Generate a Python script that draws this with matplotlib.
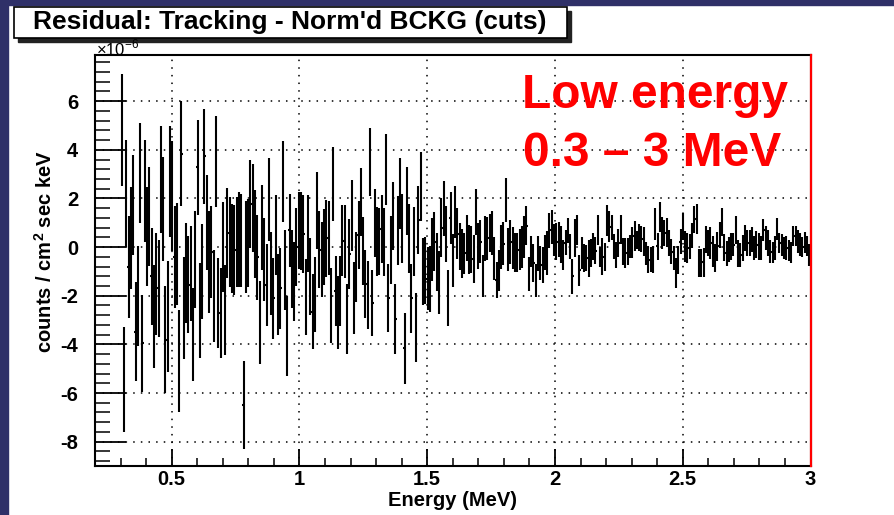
import matplotlib
matplotlib.use('Agg')
import matplotlib.pyplot as plt
import numpy as np
from matplotlib.patches import Rectangle
from matplotlib.ticker import MultipleLocator, FuncFormatter

plt.rcParams['font.family'] = ['Liberation Sans', 'DejaVu Sans']
plt.rcParams['mathtext.fontset'] = 'custom'
plt.rcParams['mathtext.rm'] = 'Liberation Sans'
plt.rcParams['mathtext.bf'] = 'Liberation Sans:bold'

# ---- data (units of 1e-6 counts / cm^2 sec keV) ----
e_start = 0.30      # MeV, lower edge of first bin
bin_w = 0.009       # MeV

vals_a = [4.8, -5.45, 2.2, -0.8, 0.37, 1.74, -3.47, -2.0, 3.04, -3.95,
          2.3, 0.44, 1.26, -1.2, -2.85, -1.5, -1.7, 2.77, 1.56, -3.8,
          -2.85, 2.7, 2.1, -0.4, -0.3, -4.7, 3.84, -2.5, -1.07, -1.55,
          -1.07, -3.6, -0.5, 3.29, -2.6, -1.0, 3.73, 1.0, -0.6, -0.2,
          -2.0, 3.52, -2.3, -2.7, 0.0, -2.6, 0.58, 0.23, -0.05, -0.1,
          0.2, 0.3, 0.27, -6.5]
errs_a = [2.3, 2.15, 2.2, 2.1, 2.1, 2.05, 2.05, 2.05, 2.05, 2.0,
          2.1, 2.05, 2.05, 2.0, 2.1, 2.1, 2.0, 2.2, 2.15, 2.2,
          2.3, 2.3, 2.25, 2.1, 2.1, 2.1, 2.15, 2.1, 2.05, 2.0,
          1.95, 1.9, 2.0, 1.95, 1.95, 1.95, 1.95, 1.95, 2.1, 1.9,
          1.9, 1.88, 1.85, 1.85, 1.85, 1.85, 1.85, 1.85, 1.82, 1.85,
          1.85, 1.95, 1.9, 1.8]

vals_b = [0.0, 0.16, 1.78, 1.6, 0.55, -0.42, -3.1, 0.8, -0.5, -1.55,
          1.95, -1.07, -2.1, 0.5, -1.95, -1.7, 2.7, -0.93, -3.67, 0.7,
          -0.9, -1.4, 0.0, 0.7, 0.65, 0.55, -2.05, 0.55, -1.2, -2.65,
          -1.95, 1.5, -0.1, -0.5, 0.0, 0.37, 0.37, -2.4, 2.6, -1.8,
          -2.7, -1.8, 0.27, 0.23, -2.95, -0.3, 1.3, -2.1, -0.8, 0.48,
          1.85, -0.15, -1.5, -1.95, 3.5, -2.3, 1.0, 0.23, 0.23, 0.74]
errs_b = [1.88, 1.8, 1.8, 1.8, 1.8, 1.75, 1.71, 1.75, 1.71, 1.68,
          1.71, 1.71, 1.67, 1.64, 1.68, 1.68, 1.68, 1.64, 1.64, 1.5,
          1.6, 1.62, 1.6, 1.58, 1.6, 1.6, 1.58, 1.59, 1.58, 1.55,
          1.55, 1.58, 1.58, 1.55, 1.55, 1.58, 1.53, 1.53, 1.53, 1.44,
          1.5, 1.44, 1.47, 1.5, 1.44, 1.44, 1.44, 1.47, 1.44, 1.4,
          1.4, 1.4, 1.4, 1.4, 1.4, 1.36, 1.41, 1.4, 1.38, 1.4]

vals_c = [0.2, 3.2, -2.1, -0.1, 1.29, -2.96, 0.7, 2.2, 0.78, -4.16,
          1.9, 0.37, -2.1, 0.23, -3.3, 1.1, 2.5, -1.0, -0.96, -1.3,
          -1.3, -0.1, 0.23, -0.6, -1.45, 0.8, 1.58, 0.55, -2.1, 1.2,
          -0.55, 1.45, 0.55, 0.03, -0.25, -0.25, 0.37, -0.1, -0.1, -0.5,
          1.45, 0.03, 0.23, -1.2, 0.37, 0.37, 0.58, 0.58, -0.48, -1.35,
          -0.95, 0.0, 0.14, 1.95, -0.1, 0.2, -0.04, -0.22, -0.22, -0.1,
          0.0]
errs_c = [1.4, 1.46, 1.4, 1.4, 1.4, 1.45, 1.42, 1.45, 1.42, 1.45,
          1.4, 1.42, 1.42, 1.42, 1.42, 1.4, 1.42, 1.38, 1.38, 1.3,
          1.35, 1.3, 1.2, 1.2, 1.3, 1.2, 1.13, 1.15, 1.15, 1.06,
          1.1, 1.06, 1.05, 0.97, 1.0, 0.85, 0.95, 1.0, 0.98, 0.98,
          0.95, 0.95, 0.88, 0.87, 0.92, 0.88, 0.78, 0.9, 0.88, 0.75,
          0.85, 0.9, 0.88, 0.9, 0.88, 0.9, 0.86, 0.8, 0.82, 0.85,
          0.85]

vals_d = [0.41, 0.88, -1.1, -0.18, -0.66, -1.38, -0.28, -0.66, -0.73, -0.22,
          -0.25, 0.7, 0.82, 0.3, 0.23, 0.3, 0.1, -0.34, 0.19, 0.67,
          0.03, -1.2, 0.37, 0.7, -0.96, -0.25, -0.45, -0.45, -0.45, -0.25,
          0.03, -0.14, 0.7, -0.39, -0.39, -0.39, 1.1, 0.85, 0.82, 0.03,
          -0.32, 0.16, 0.71, -0.18, -0.25, -0.18, 0.03, 0.19, 0.45, 0.3,
          0.4, 0.33, 0.23, -0.25, -0.52, -0.52, -0.52, 0.96]
errs_d = [0.86, 0.81, 0.69, 0.65, 0.79, 0.69, 0.72, 0.69, 0.74, 0.72,
          0.9, 0.72, 0.69, 0.65, 0.76, 0.72, 0.77, 0.62, 0.52, 0.52,
          0.52, 0.72, 0.77, 0.62, 0.65, 0.65, 0.58, 0.55, 0.76, 0.57,
          0.57, 0.57, 0.62, 0.41, 0.76, 0.58, 0.65, 0.62, 0.52, 0.52,
          0.52, 0.58, 0.6, 0.55, 0.62, 0.55, 0.48, 0.62, 0.62, 0.38,
          0.57, 0.52, 0.58, 0.48, 0.55, 0.52, 0.55, 0.65]

vals_e = [0.03, 1.24, 0.58, 0.58, 0.6, 0.17, -0.18, -0.45, -1.05, -0.52,
          0.23, 0.85, 0.03, -0.04, 0.03, 0.47, 1.15, 1.15, -0.66, -0.66,
          -0.63, 0.3, 0.17, 0.17, -0.18, -0.45, 0.03, 0.5, 1.02, 0.0,
          -0.25, -0.11, 0.03, 0.1, 0.72, -0.25, -0.32, -0.04, 0.37, 0.17,
          0.17, 0.3, -0.04, 0.1, 0.03, -0.04, 0.72, 0.37, 0.17, -0.18,
          -0.22, -0.04, 0.76, 0.17, 0.1, -0.04, -0.04, -0.14, -0.22, 0.47,
          0.44, 0.23, 0.1, 0.0, 0.19, 0.03, -0.32]
errs_e = [0.55, 0.6, 0.65, 0.55, 0.58, 0.55, 0.52, 0.48, 0.62, 0.58,
          0.52, 0.55, 0.65, 0.62, 0.52, 0.52, 0.55, 0.62, 0.58, 0.58,
          0.58, 0.55, 0.52, 0.65, 0.62, 0.58, 0.58, 0.52, 0.58, 0.55,
          0.52, 0.52, 0.55, 0.48, 0.58, 0.55, 0.48, 0.52, 0.52, 0.52,
          0.55, 0.52, 0.48, 0.55, 0.55, 0.48, 0.45, 0.48, 0.52, 0.48,
          0.45, 0.48, 0.45, 0.41, 0.45, 0.45, 0.48, 0.45, 0.45, 0.41,
          0.41, 0.48, 0.48, 0.41, 0.45, 0.41, 0.45]

x_ticks = [0.5, 1.0, 1.5, 2.0, 2.5, 3.0]
y_ticks = [-8, -6, -4, -2, 0, 2, 4, 6]

title = "Residual: Tracking - Norm'd BCKG (cuts)"
note_line1 = "Low energy"
note_line2 = "0.3 \u2013 3 MeV"

values = np.array(vals_a + vals_b + vals_c + vals_d + vals_e)
errors = np.array(errs_a + errs_b + errs_c + errs_d + errs_e)
energy = e_start + bin_w * (np.arange(len(values)) + 0.5)

# ---- figure ----
W, H = 894, 515
fig = plt.figure(figsize=(W / 100, H / 100), dpi=100)
fig.patch.set_facecolor('white')

def fx(px):
    return px / W

def fy(py):
    return 1 - py / H

# dark slide edges
fig.patches.append(Rectangle((0, 0), fx(8), 1, transform=fig.transFigure,
                             color='#2f3068', zorder=0))
fig.patches.append(Rectangle((0, fy(5)), 1, 5 / H, transform=fig.transFigure,
                             color='#2f3068', zorder=0))

ax = fig.add_axes([fx(95), fy(466), fx(810.5) - fx(95), fy(55) - fy(466)])
ax.errorbar(energy, values, yerr=errors, xerr=bin_w / 2, fmt='none',
            ecolor='black', elinewidth=1.5, capsize=0, zorder=3)

ax.set_xlim(0.2, 3.0)
ax.set_ylim(-9.0, 7.9)
ax.set_xticks(x_ticks)
ax.set_yticks(y_ticks)
ax.xaxis.set_minor_locator(MultipleLocator(0.1))
ax.yaxis.set_minor_locator(MultipleLocator(0.4))
fmt = FuncFormatter(lambda v, p: ('%g' % v))
ax.xaxis.set_major_formatter(fmt)
ax.yaxis.set_major_formatter(fmt)
ax.tick_params(which='both', direction='in', top=False, right=False,
               colors='black', labelsize=14.5)
ax.tick_params(axis='y', which='major', length=22, width=1.3, pad=12)
ax.tick_params(axis='y', which='minor', length=11, width=1.1)
ax.tick_params(axis='x', which='major', length=12, width=1.3, pad=3)
ax.tick_params(axis='x', which='minor', length=6, width=1.1)
for lab in ax.get_xticklabels() + ax.get_yticklabels():
    lab.set_fontweight('bold')
ax.grid(True, which='major', linestyle=(0, (1, 4)), color='black', linewidth=1.1)
for s in ax.spines.values():
    s.set_linewidth(1.5)
ax.axvline(3.0, color='red', linewidth=1.6, clip_on=False, zorder=4)

ax.set_xlabel('Energy (MeV)', fontsize=14.5, fontweight='bold', labelpad=1)
fig.text(fx(45), fy(252), r'counts / cm$^\mathbf{2}$ sec keV', rotation=90,
         fontsize=14.5, fontweight='bold', ha='center', va='center')

# title box with shadow
fig.patches.append(Rectangle((fx(18), fy(42)), fx(567) - fx(14), 31 / H,
                             transform=fig.transFigure, color='#222222', zorder=1))
fig.patches.append(Rectangle((fx(14), fy(38)), fx(567) - fx(14), 31 / H,
                             transform=fig.transFigure, facecolor='white',
                             edgecolor='black', linewidth=1.2, zorder=2))
fig.text(fx(290), fy(22.5), title, fontsize=19, fontweight='bold',
         ha='center', va='center', zorder=3)
fig.text(fx(96), fy(48.5), r'$\times$10$^{-6}$', fontsize=12, ha='left',
         va='center', zorder=6)

fig.text(fx(655), fy(96), note_line1, color='red', fontsize=34.5,
         fontweight='bold', ha='center', va='center')
fig.text(fx(652), fy(153), note_line2, color='red', fontsize=34.5,
         fontweight='bold', ha='center', va='center')

fig.savefig('out.png', dpi=100)
